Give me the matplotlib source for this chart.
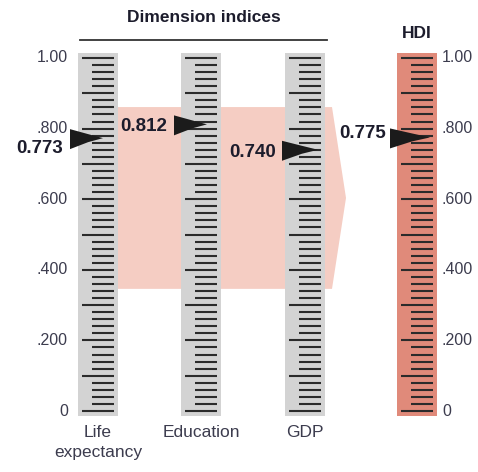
import numpy as np
import matplotlib
matplotlib.use('Agg')
import matplotlib.pyplot as plt
from matplotlib.patches import Polygon, Rectangle

# Data
dim_names = ['Life\nexpectancy', 'Education', 'GDP']
dim_values = [0.773, 0.812, 0.740]
hdi_value = 0.775
tick_values = [0, 0.2, 0.4, 0.6, 0.8, 1.0]
tick_labels = ['0', '.200', '.400', '.600', '.800', '1.00']

plt.rcParams['font.family'] = ['Liberation Sans', 'DejaVu Sans']

# Layout (pixel x, value y)
W, H = 478, 472
y0_px, y1_px = 411, 58          # pixel rows of value 0 and 1
k = 1.0 / (y0_px - y1_px)       # value units per pixel
bar_x = [98, 201.5, 305]
hdi_x = 417
bar_w = 40
label_col = '#3c3c4e'
tick_col = '#2b2b2b'

fig = plt.figure(figsize=(W / 100, H / 100), dpi=100)
ax = fig.add_axes([0, 0, 1, 1])
ax.set_xlim(0, W)
ax.set_ylim((y0_px - H) * k, y0_px * k)
ax.axis('off')

# pink arrow behind the dimension bars
top_v, bot_v = 0.861, 0.346
left_x, right_x, tip_x = bar_x[0] + bar_w / 2, 332, 346
arrow = Polygon([(left_x, top_v), (right_x, top_v), (tip_x, (top_v + bot_v) / 2),
                 (right_x, bot_v), (left_x, bot_v)], closed=True,
                fc='#f5cdc3', ec='none', zorder=1)
ax.add_patch(arrow)


def draw_scale(xc, face):
    ax.add_patch(Rectangle((xc - bar_w / 2, -5 * k), bar_w, 1 + 10 * k,
                           fc=face, ec='none', zorder=2))
    right = xc + bar_w / 2 - 4
    for i in range(51):
        v = i * 0.02
        left = xc - bar_w / 2 + 4 if i % 5 == 0 else xc - bar_w / 2 + 14
        ax.plot([left, right], [v, v], color=tick_col, lw=1.5,
                solid_capstyle='butt', zorder=3)


def draw_pointer(xc, v, off, L):
    tip = xc + off
    pts = [(tip, v), (tip - L * 0.45, v + 4 * k), (tip - L, v + 9 * k),
           (tip - L, v - 11 * k), (tip - L * 0.45, v - 4 * k)]
    ax.add_patch(Polygon(pts, closed=True, fc='#1b1b1b', ec='none', zorder=4))


for xc in bar_x:
    draw_scale(xc, '#d3d3d3')
draw_scale(hdi_x, '#e08a7a')

offsets = [5, 5.5, 13]
lengths = [33, 33, 36]
for xc, v, o, L in zip(bar_x, dim_values, offsets, lengths):
    draw_pointer(xc, v, o, L)
draw_pointer(hdi_x, hdi_value, 13, 40)

# value labels
val_kw = dict(fontsize=13.5, fontweight='bold', color='#1c1c2c', va='center', ha='right', zorder=5)
ax.text(bar_x[0] - 35, dim_values[0] - 10 * k, f'{dim_values[0]:.3f}', **val_kw)
ax.text(bar_x[1] - 34, dim_values[1] - 2 * k, f'{dim_values[1]:.3f}', **val_kw)
ax.text(bar_x[2] - 29, dim_values[2] - 3 * k, f'{dim_values[2]:.3f}', **val_kw)
ax.text(hdi_x - 31, hdi_value + 4 * k, f'{hdi_value:.3f}', **val_kw)

# axis labels
for v, s in zip(tick_values, tick_labels):
    ax.text(bar_x[0] - 30, v, s, fontsize=11.5, color=label_col, ha='right', va='center')
    ax.text(hdi_x + 25, v, s, fontsize=11.5, color=label_col, ha='left', va='center')

# category labels
for xc, s in zip(bar_x, dim_names):
    ax.text(xc, -14 * k, s, fontsize=12.5, color=label_col, ha='center', va='top',
            linespacing=1.45)

# headers
ax.text(np.mean([80, 327]), (y0_px - 18) * k, 'Dimension indices', fontsize=12.5,
        fontweight='bold', color='#1c1c2c', ha='center', va='center')
ax.plot([80, 327], [(y0_px - 40) * k] * 2, color='#333333', lw=1.3)
ax.text(hdi_x, (y0_px - 33) * k, 'HDI', fontsize=12.5, fontweight='bold',
        color='#1c1c2c', ha='center', va='center')

fig.savefig('out.png', dpi=100)
